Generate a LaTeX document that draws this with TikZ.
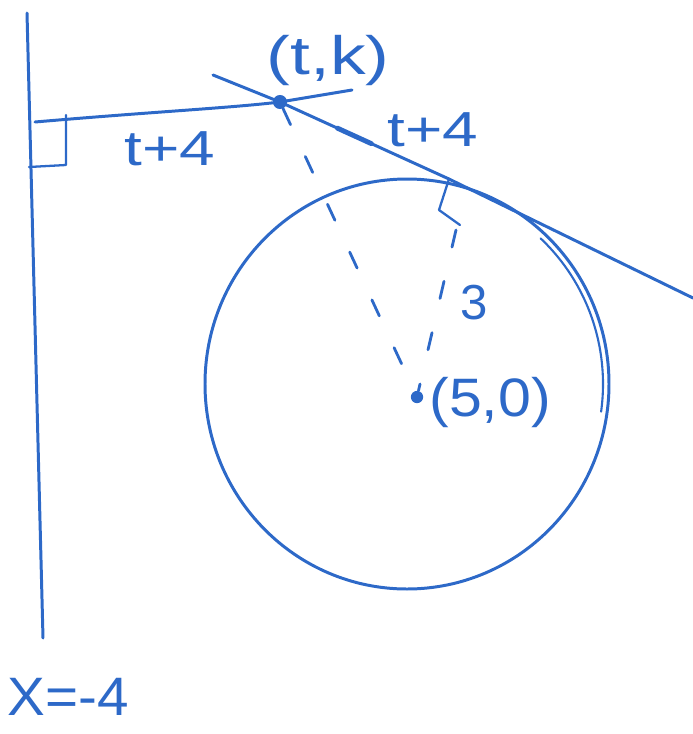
\documentclass[tikz,border=0pt]{standalone}
\usepackage{fontspec}
\setmainfont{Liberation Sans}
\usetikzlibrary{calc}
\definecolor{pen}{RGB}{45,105,200}
\begin{document}
\begin{tikzpicture}[x=0.02cm,y=-0.02cm,
  stroke/.style={draw=pen,line width=1.7pt,line cap=round,line join=round},
  dashline/.style={draw=pen,line width=1.6pt,line cap=round,dash pattern=on 10pt off 20pt},
  lbl/.style={text=pen,font=\fontsize{28}{30}\selectfont,inner sep=0pt},
  dotnode/.style={circle,fill=pen,inner sep=0pt,minimum size=7pt}]
\useasboundingbox (0,0) rectangle (693,734);
% vertical line x=-4
\coordinate (v1) at (27,13);
\coordinate (v2) at (43,638);
\draw[stroke] (v1) -- (v2);
% right-angle mark at left
\coordinate (ra1) at (66,115);
\coordinate (ra2) at (66,165);
\coordinate (ra3) at (29,167);
\draw[stroke,line width=1.3pt] (ra1) -- (ra2) -- (ra3);
% point (t,k)
\node[dotnode,minimum size=8pt] (tk) at (280,102) {};
% horizontal line
\coordinate (h1) at (35,122);
\coordinate (h2) at (352,90);
\draw[stroke] (h1) .. controls (150,112) and (230,108) .. (tk.center) -- (h2);
% circle
\coordinate (cc) at (407,384);
\draw[stroke] (cc) ellipse [x radius=202, y radius=205];
% extra overdrawn stroke on right side
\draw[stroke,line width=1.2pt] ([shift={(cc)}] -47:196 and 199) arc[start angle=-47,end angle=8,x radius=196,y radius=199];
% centre
\node[dotnode] (c) at (417,397) {};
% tangent line
\coordinate (t1) at (213,75);
\coordinate (tp) at (449,179);
\coordinate (t2) at (693,298);
\draw[stroke] (t1) -- (tk.center) -- (tp) -- (t2);
\draw[stroke,line width=2.8pt] ($(tk.center)!0.34!(tp)$) -- ($(tk.center)!0.54!(tp)$);
% right-angle mark at tangent point
\coordinate (rb1) at (439,210);
\coordinate (rb2) at (460,225);
\draw[stroke,line width=1.3pt] (tp) -- (rb1) -- (rb2);
% dashed radii
\draw[dashline] (tk) -- (c);
\draw[dashline] (456,230) -- (c);
% labels
\node[lbl] (ltk) at (328,60) {\scalebox{1.45}[1.1]{(t,k)}};
\node[lbl] (l1) at (170,149) {\scalebox{1.3}[1]{t+4}};
\node[lbl] (l2) at (433,130) {\scalebox{1.3}[1]{t+4}};
\node[lbl] (l3) at (474,303) {3};
\node[lbl,anchor=west] (l50) at (429,402) {\scalebox{1.2}[1.1]{(5,0)}};
\node[lbl] (lx) at (68,697) {\scalebox{1.15}[1.1]{X=-4}};
\end{tikzpicture}
\end{document}
